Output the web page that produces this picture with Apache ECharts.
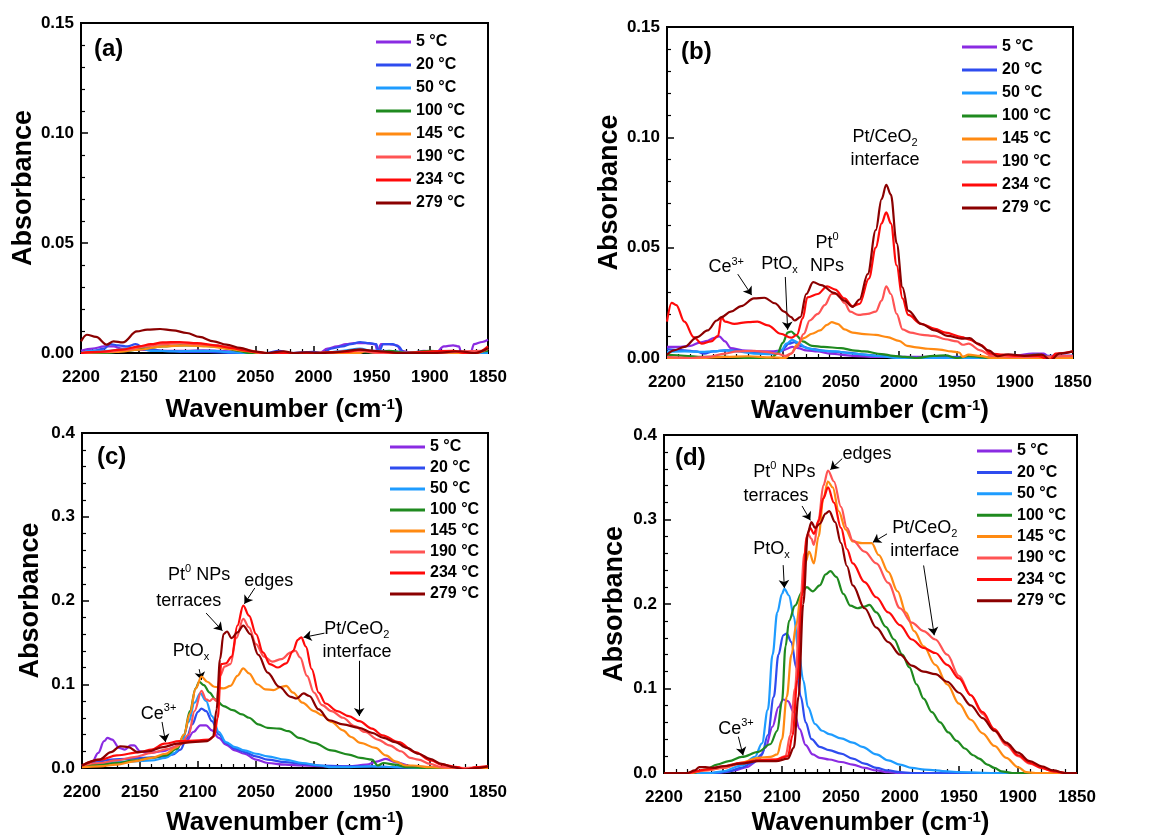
<!DOCTYPE html>
<html><head><meta charset="utf-8">
<script src="https://cdn.jsdelivr.net/npm/echarts@6/dist/echarts.min.js"></script>
<style>html,body{margin:0;padding:0;background:#fff}#c{width:1151px;height:837px}</style>
</head><body><div id="c"></div>
<script>
const FONT = "'Liberation Sans', Arial, sans-serif";
const seriesNames = ['5 °C','20 °C','50 °C','100 °C','145 °C','190 °C','234 °C','279 °C'];
const seriesColors = ['#8a2be2','#2e4cef','#1e9cff','#1f8a1f','#ff8a12','#ff5454','#ff0a0a','#8b0000'];
const panelLabels = ['(a)','(b)','(c)','(d)'];
const xMin = 1850, xMax = 2200, xInterval = 50;
const yMaxes = [0.15, 0.15, 0.4, 0.4];
const yIntervals = [0.05, 0.05, 0.1, 0.1];
const yDecimals = [2, 2, 1, 1];

// ---------- panel (a) ----------
const a5 = [[2200,0.001],[2190,0.002],[2180,0.003],[2172,0.003],[2165,0.002],[2150,0.0015],[2130,0.001],[2110,0.001],[2095,0.0012],[2080,0.001],[2065,0.0005],[2050,0],[2010,0],[1995,0],[1988,0.002],[1980,0.003],[1972,0.004],[1965,0.0045],[1955,0.0045],[1947,0.004],[1945,0.0005],[1942,0.004],[1935,0.004],[1928,0.0035],[1925,0.001],[1915,0],[1905,0.001],[1895,0],[1888,0.003],[1880,0.0035],[1875,0.003],[1873,0],[1865,0],[1862,0.004],[1855,0.005],[1850,0.006]];
const a20 = [[2200,0],[2190,0.001],[2180,0.002],[2175,0.004],[2168,0.0035],[2160,0.003],[2153,0.004],[2145,0.002],[2130,0.001],[2110,0.0005],[2090,0.0005],[2070,0],[2040,0],[2030,0.001],[2020,0],[2000,0.0005],[1992,0],[1985,0.002],[1975,0.003],[1968,0.004],[1960,0.005],[1952,0.0045],[1946,0.004],[1944,0.0005],[1940,0.004],[1932,0.004],[1927,0.003],[1922,0],[1910,0.0005],[1900,0],[1880,0.0005],[1860,0],[1850,0.001]];
const a50 = [[2200,0],[2190,0.001],[2175,0.001],[2160,0.002],[2150,0.0025],[2140,0.001],[2120,0.0008],[2100,0.001],[2085,0.001],[2075,0.0005],[2060,0],[1990,0],[1975,0.001],[1960,0.002],[1950,0.001],[1940,0.001],[1910,0],[1850,0]];
const a100 = [[2200,0],[2180,0],[2160,0.001],[2145,0.002],[2130,0.003],[2115,0.0035],[2100,0.0035],[2085,0.003],[2075,0.002],[2065,0.001],[2055,0],[2000,0],[1960,0.0005],[1945,0],[1935,0.001],[1920,0],[1900,0.001],[1880,0],[1850,0.001]];
const a145 = [[2200,0],[2170,0.0005],[2150,0.0015],[2130,0.003],[2110,0.0035],[2090,0.003],[2075,0.002],[2060,0.001],[2045,0],[1960,0],[1955,0.001],[1940,0],[1860,0],[1850,0.002]];
const a190 = [[2200,0],[2180,0.0005],[2160,0.0015],[2145,0.003],[2130,0.004],[2115,0.0045],[2100,0.004],[2085,0.0035],[2070,0.0025],[2058,0.0015],[2045,0],[2000,0],[1960,0.001],[1945,0],[1900,0],[1855,0.001],[1850,0.002]];
const a234 = [[2200,0],[2185,0.0005],[2165,0.0015],[2150,0.003],[2140,0.004],[2130,0.0048],[2115,0.005],[2100,0.0045],[2085,0.0035],[2070,0.0022],[2060,0.0012],[2050,0.0005],[2040,0],[2000,0],[1970,0.0005],[1960,0.0015],[1950,0.001],[1940,0.0005],[1930,0],[1880,0.001],[1870,0],[1860,0],[1850,0.003]];
const a279 = [[2200,0.0053],[2195,0.0083],[2187,0.0073],[2178,0.0038],[2172,0.0053],[2164,0.0048],[2152,0.0098],[2143,0.0106],[2132,0.0109],[2121,0.0103],[2109,0.0091],[2098,0.0073],[2086,0.0053],[2075,0.0038],[2063,0.0023],[2052,0.0008],[2040,0],[2026,0.0008],[2017,0],[2006,0.0003],[1994,0],[1983,0.0003],[1960,0.0015],[1943,0.0008],[1925,0],[1897,0],[1874,0.0008],[1862,0],[1850,0.0022]];

// ---------- panel (b) ----------
const b5 = [[2200,0.005],[2190,0.005],[2180,0.0055],[2172,0.007],[2165,0.0078],[2160,0.009],[2155,0.0098],[2150,0.0075],[2145,0.0045],[2135,0.0035],[2120,0.003],[2110,0.003],[2100,0.0035],[2092,0.005],[2087,0.0045],[2080,0.0035],[2070,0.003],[2060,0.002],[2040,0.001],[2020,0.0005],[1960,0.0005],[1920,0],[1900,0.001],[1885,0.002],[1875,0.002],[1870,0],[1860,0.001],[1850,0.001]];
const b20 = [[2200,0.004],[2185,0.0035],[2175,0.003],[2168,0.002],[2160,0.003],[2150,0.0035],[2140,0.0035],[2130,0.0028],[2115,0.002],[2105,0.002],[2100,0.004],[2095,0.0065],[2090,0.0072],[2085,0.0055],[2075,0.004],[2060,0.003],[2045,0.0025],[2030,0.0015],[2015,0.001],[2000,0.0005],[1980,0],[1950,0.0005],[1900,0],[1880,0.001],[1850,0.001]];
const b50 = [[2200,0.0028],[2185,0.003],[2170,0.0028],[2160,0.003],[2150,0.0035],[2140,0.003],[2125,0.002],[2110,0.0018],[2102,0.003],[2097,0.0065],[2092,0.0082],[2087,0.007],[2080,0.0045],[2070,0.0035],[2055,0.003],[2040,0.002],[2020,0.001],[2000,0],[1900,0],[1850,0.001]];
const b100 = [[2200,0.0015],[2185,0.001],[2170,0.0005],[2150,0.0005],[2130,0],[2110,0],[2105,0.002],[2100,0.007],[2096,0.0115],[2093,0.012],[2089,0.0105],[2083,0.0075],[2075,0.0055],[2065,0.005],[2050,0.0045],[2040,0.0035],[2030,0.003],[2015,0.0018],[2005,0.001],[1995,0.0005],[1985,0],[1970,0.001],[1960,0.0012],[1950,0],[1940,0.0008],[1920,0],[1900,0.0005],[1880,0.0015],[1870,0],[1850,0]];
const b145 = [[2200,0],[2170,0],[2150,0.0005],[2130,0.0008],[2110,0.0003],[2098,0],[2093,0.002],[2088,0.006],[2082,0.009],[2075,0.011],[2068,0.0125],[2062,0.015],[2058,0.0163],[2053,0.0155],[2047,0.013],[2040,0.0115],[2030,0.0108],[2020,0.0105],[2010,0.0095],[2000,0.0078],[1993,0.0055],[1985,0.0048],[1975,0.0042],[1965,0.0038],[1955,0.003],[1948,0.0025],[1945,0.0005],[1940,0.0015],[1930,0.001],[1920,0],[1850,0]];
const b190 = [[2200,0.0005],[2180,0],[2165,0.0005],[2150,0.002],[2140,0.003],[2125,0.0032],[2115,0.0028],[2105,0.002],[2098,0.001],[2093,0.002],[2088,0.005],[2082,0.011],[2077,0.017],[2070,0.02],[2064,0.024],[2058,0.029],[2053,0.029],[2047,0.025],[2042,0.021],[2035,0.0195],[2027,0.02],[2020,0.021],[2015,0.026],[2011,0.0325],[2007,0.029],[2002,0.02],[1997,0.013],[1990,0.0115],[1980,0.0105],[1970,0.01],[1960,0.0085],[1950,0.0075],[1945,0.006],[1940,0.0065],[1930,0.0035],[1920,0.001],[1900,0.0005],[1850,0.001]];
const b234 = [[2200,0.0165],[2196,0.025],[2192,0.024],[2185,0.0165],[2177,0.0095],[2170,0.0065],[2162,0.0075],[2156,0.01],[2153,0.0185],[2150,0.0165],[2142,0.0155],[2130,0.0163],[2122,0.0165],[2113,0.0148],[2102,0.011],[2093,0.0092],[2088,0.0105],[2083,0.018],[2079,0.0275],[2070,0.029],[2062,0.0325],[2055,0.031],[2047,0.027],[2040,0.0235],[2034,0.0245],[2026,0.036],[2020,0.05],[2015,0.061],[2011,0.066],[2007,0.061],[2002,0.042],[1997,0.027],[1992,0.0195],[1981,0.0155],[1969,0.0132],[1960,0.0115],[1946,0.0095],[1939,0.0083],[1929,0.0057],[1921,0.002],[1910,0.0015],[1900,0.001],[1880,0.001],[1870,-0.001],[1865,0.002],[1850,0.003]];
const b279 = [[2200,0.0015],[2194,0.0035],[2185,0.005],[2174,0.0095],[2165,0.0125],[2157,0.017],[2153,0.0185],[2145,0.021],[2136,0.0235],[2125,0.027],[2116,0.0273],[2107,0.0248],[2099,0.021],[2093,0.0185],[2090,0.017],[2085,0.0185],[2080,0.029],[2074,0.0344],[2067,0.033],[2056,0.0295],[2047,0.026],[2040,0.0232],[2034,0.0265],[2027,0.038],[2020,0.058],[2015,0.072],[2011,0.0785],[2007,0.074],[2002,0.052],[1997,0.032],[1992,0.0215],[1981,0.0155],[1969,0.0125],[1958,0.01],[1946,0.0088],[1939,0.009],[1932,0.0065],[1923,0.0035],[1915,0.0008],[1906,0.0017],[1892,0.001],[1877,0.0015],[1869,-0.001],[1862,0.002],[1850,0.003]];

// ---------- panel (c) ----------
const c5 = [[2200,0.002],[2192,0.005],[2186,0.018],[2181,0.032],[2178,0.036],[2174,0.034],[2168,0.024],[2163,0.022],[2158,0.027],[2155,0.027],[2150,0.02],[2143,0.018],[2130,0.02],[2120,0.025],[2110,0.032],[2104,0.043],[2098,0.051],[2093,0.051],[2088,0.045],[2082,0.036],[2076,0.028],[2068,0.021],[2060,0.017],[2050,0.01],[2040,0.006],[2025,0.004],[2010,0.003],[1990,0.002],[1970,0.002],[1955,0.004],[1945,0.008],[1938,0.011],[1930,0.007],[1915,0.002],[1900,0.001],[1870,0],[1850,0]];
const c20 = [[2200,0.003],[2185,0.008],[2175,0.01],[2160,0.011],[2150,0.012],[2135,0.013],[2122,0.016],[2115,0.022],[2110,0.035],[2105,0.052],[2100,0.067],[2097,0.071],[2093,0.068],[2088,0.056],[2082,0.04],[2076,0.03],[2068,0.023],[2060,0.019],[2050,0.014],[2040,0.01],[2025,0.007],[2010,0.005],[1995,0.003],[1975,0.002],[1950,0.002],[1930,0.001],[1900,0],[1850,0]];
const c50 = [[2200,0.002],[2185,0.005],[2170,0.007],[2155,0.008],[2140,0.009],[2128,0.012],[2120,0.018],[2114,0.03],[2108,0.055],[2103,0.078],[2098,0.089],[2093,0.08],[2088,0.062],[2082,0.043],[2076,0.031],[2068,0.025],[2060,0.021],[2050,0.017],[2040,0.014],[2025,0.01],[2010,0.006],[1995,0.003],[1985,0.001],[1970,0.001],[1950,0.002],[1930,0.001],[1900,0],[1850,0]];
const c100 = [[2200,0.002],[2185,0.004],[2170,0.006],[2155,0.009],[2140,0.012],[2128,0.015],[2118,0.023],[2112,0.04],[2107,0.068],[2102,0.095],[2099,0.103],[2095,0.099],[2090,0.09],[2085,0.082],[2078,0.074],[2070,0.069],[2062,0.064],[2056,0.06],[2048,0.052],[2040,0.048],[2030,0.047],[2022,0.044],[2013,0.036],[2000,0.03],[1985,0.021],[1970,0.016],[1960,0.012],[1950,0.01],[1945,0.003],[1940,0.006],[1930,0.004],[1920,0.001],[1900,0],[1850,0]];
const c145 = [[2200,0.001],[2185,0.002],[2170,0.004],[2155,0.008],[2140,0.012],[2128,0.017],[2118,0.025],[2112,0.04],[2107,0.065],[2102,0.095],[2097,0.109],[2092,0.103],[2086,0.097],[2078,0.095],[2072,0.098],[2066,0.11],[2061,0.119],[2056,0.113],[2049,0.1],[2042,0.094],[2035,0.093],[2028,0.097],[2024,0.098],[2018,0.09],[2010,0.078],[2000,0.068],[1993,0.063],[1985,0.055],[1975,0.045],[1968,0.037],[1960,0.03],[1947,0.024],[1938,0.015],[1930,0.008],[1921,0.003],[1915,0.003],[1900,0.001],[1880,0],[1850,0]];
const c190 = [[2200,0.003],[2185,0.006],[2170,0.009],[2155,0.013],[2140,0.018],[2125,0.023],[2115,0.028],[2108,0.04],[2103,0.068],[2097,0.092],[2093,0.082],[2090,0.08],[2087,0.083],[2084,0.08],[2081,0.11],[2077,0.121],[2072,0.124],[2067,0.155],[2061,0.178],[2056,0.168],[2050,0.148],[2043,0.133],[2036,0.127],[2028,0.13],[2020,0.138],[2016,0.14],[2012,0.132],[2006,0.11],[2000,0.09],[1993,0.075],[1985,0.068],[1975,0.06],[1965,0.05],[1956,0.043],[1945,0.034],[1935,0.027],[1925,0.02],[1917,0.012],[1910,0.01],[1900,0.005],[1890,0.001],[1870,0],[1850,0.002]];
const c234 = [[2200,0.003],[2184,0.01],[2170,0.015],[2150,0.019],[2140,0.022],[2129,0.029],[2116,0.032],[2099,0.033],[2090,0.034],[2086,0.038],[2083,0.06],[2080,0.124],[2076,0.125],[2071,0.133],[2066,0.17],[2061,0.194],[2056,0.182],[2050,0.16],[2044,0.138],[2038,0.124],[2031,0.12],[2024,0.125],[2018,0.14],[2014,0.153],[2011,0.156],[2007,0.145],[2002,0.118],[1996,0.09],[1990,0.077],[1980,0.068],[1970,0.062],[1961,0.056],[1950,0.047],[1941,0.039],[1927,0.031],[1913,0.019],[1899,0.009],[1890,0.004],[1876,0.001],[1870,-0.002],[1860,0.001],[1850,0.002]];
const c279 = [[2200,0.003],[2185,0.01],[2175,0.019],[2167,0.026],[2160,0.025],[2152,0.019],[2143,0.02],[2130,0.025],[2118,0.029],[2105,0.031],[2092,0.032],[2087,0.037],[2084,0.07],[2081,0.13],[2078,0.16],[2075,0.163],[2071,0.155],[2066,0.162],[2061,0.17],[2055,0.16],[2048,0.135],[2040,0.114],[2030,0.097],[2020,0.085],[2015,0.083],[2009,0.089],[2004,0.086],[1996,0.07],[1987,0.057],[1975,0.052],[1961,0.048],[1950,0.042],[1940,0.036],[1930,0.031],[1920,0.024],[1910,0.017],[1900,0.011],[1890,0.005],[1880,0.001],[1870,-0.002],[1860,0],[1850,0.002]];

// ---------- panel (d) ----------
const d5 = [[2200,0],[2160,0],[2150,0.001],[2140,0.003],[2130,0.007],[2120,0.015],[2114,0.03],[2108,0.055],[2103,0.078],[2099,0.087],[2095,0.085],[2090,0.072],[2085,0.052],[2080,0.033],[2074,0.022],[2068,0.018],[2060,0.016],[2050,0.013],[2040,0.01],[2030,0.006],[2020,0.003],[2010,0.001],[2000,0],[1850,0]];
const d20 = [[2200,0],[2155,0],[2145,0.002],[2135,0.006],[2125,0.012],[2117,0.022],[2112,0.045],[2107,0.09],[2103,0.14],[2099,0.163],[2096,0.165],[2092,0.155],[2088,0.125],[2084,0.09],[2080,0.06],[2075,0.04],[2068,0.031],[2060,0.027],[2050,0.023],[2040,0.017],[2030,0.011],[2020,0.006],[2010,0.003],[2000,0.001],[1990,0],[1850,0]];
const d50 = [[2200,0],[2160,0],[2150,0.002],[2134,0.009],[2123,0.019],[2117,0.035],[2112,0.075],[2108,0.14],[2104,0.19],[2100,0.212],[2098,0.218],[2094,0.21],[2090,0.185],[2086,0.145],[2082,0.11],[2078,0.078],[2072,0.058],[2066,0.05],[2060,0.046],[2050,0.041],[2040,0.036],[2032,0.031],[2020,0.022],[2010,0.015],[2000,0.01],[1990,0.006],[1979,0.004],[1960,0.002],[1950,0.001],[1920,0],[1850,0]];
const d100 = [[2200,0],[2175,0],[2165,0.004],[2155,0.01],[2145,0.014],[2134,0.019],[2120,0.025],[2110,0.034],[2104,0.05],[2100,0.085],[2097,0.15],[2094,0.18],[2089,0.198],[2083,0.214],[2079,0.22],[2074,0.215],[2068,0.222],[2063,0.235],[2059,0.239],[2054,0.232],[2048,0.212],[2042,0.198],[2036,0.195],[2030,0.197],[2026,0.199],[2020,0.19],[2012,0.173],[2005,0.158],[1998,0.14],[1992,0.125],[1986,0.105],[1980,0.088],[1973,0.072],[1966,0.06],[1959,0.048],[1952,0.038],[1945,0.029],[1938,0.021],[1933,0.017],[1926,0.01],[1920,0.006],[1914,0.002],[1905,0],[1850,0]];
const d145 = [[2200,0],[2178,0],[2165,0.003],[2150,0.006],[2135,0.012],[2120,0.018],[2110,0.019],[2104,0.022],[2100,0.04],[2096,0.09],[2092,0.14],[2088,0.175],[2084,0.21],[2080,0.25],[2077,0.262],[2073,0.248],[2069,0.28],[2065,0.325],[2061,0.345],[2057,0.338],[2052,0.31],[2046,0.288],[2040,0.274],[2032,0.272],[2024,0.272],[2018,0.258],[2010,0.238],[2002,0.215],[1995,0.19],[1988,0.168],[1980,0.15],[1970,0.128],[1960,0.105],[1950,0.082],[1940,0.063],[1930,0.047],[1920,0.032],[1910,0.018],[1900,0.007],[1893,0.001],[1885,0],[1850,0]];
const d190 = [[2200,0],[2180,0],[2165,0.003],[2150,0.006],[2135,0.011],[2120,0.015],[2105,0.016],[2097,0.02],[2093,0.045],[2089,0.1],[2085,0.19],[2081,0.26],[2078,0.283],[2075,0.277],[2073,0.27],[2069,0.3],[2065,0.34],[2061,0.358],[2056,0.345],[2050,0.315],[2045,0.29],[2040,0.275],[2030,0.262],[2020,0.248],[2010,0.225],[2000,0.195],[1990,0.178],[1980,0.168],[1970,0.158],[1960,0.14],[1950,0.115],[1940,0.092],[1930,0.07],[1920,0.05],[1910,0.033],[1900,0.02],[1890,0.011],[1880,0.006],[1870,0.002],[1860,0],[1850,0]];
const d234 = [[2200,0],[2180,0],[2165,0.004],[2150,0.008],[2135,0.012],[2120,0.015],[2105,0.016],[2095,0.02],[2091,0.045],[2087,0.11],[2083,0.21],[2079,0.28],[2076,0.29],[2073,0.283],[2069,0.298],[2065,0.325],[2061,0.338],[2056,0.32],[2050,0.29],[2045,0.265],[2040,0.248],[2030,0.226],[2020,0.208],[2010,0.19],[2000,0.175],[1990,0.158],[1980,0.148],[1970,0.142],[1960,0.128],[1950,0.112],[1940,0.092],[1930,0.072],[1920,0.052],[1910,0.035],[1900,0.021],[1890,0.012],[1880,0.006],[1870,0.002],[1860,0],[1850,0]];
const d279 = [[2200,0],[2180,0],[2174,0.003],[2170,0.007],[2165,0.007],[2158,0.006],[2150,0.008],[2135,0.011],[2120,0.014],[2105,0.014],[2095,0.017],[2090,0.03],[2086,0.09],[2082,0.2],[2078,0.285],[2075,0.297],[2072,0.29],[2068,0.295],[2063,0.307],[2060,0.31],[2055,0.297],[2050,0.272],[2045,0.245],[2040,0.222],[2030,0.195],[2020,0.172],[2010,0.155],[2000,0.14],[1990,0.127],[1980,0.12],[1970,0.117],[1960,0.108],[1950,0.095],[1940,0.08],[1930,0.065],[1920,0.05],[1910,0.036],[1900,0.024],[1890,0.014],[1880,0.008],[1870,0.003],[1860,0],[1850,0]];

const panelData = [
  [a5,a20,a50,a100,a145,a190,a234,a279],
  [b5,b20,b50,b100,b145,b190,b234,b279],
  [c5,c20,c50,c100,c145,c190,c234,c279],
  [d5,d20,d50,d100,d145,d190,d234,d279]
];

// ---------- annotations (data coordinates) ----------
const panelNotes = [
  [],
  [ {text:'Ce{sup|3+}', at:[2149,0.041]}, {text:'PtO{sub|x}', at:[2103,0.0425]}, {text:'Pt{sup|0}\nNPs', at:[2062,0.047]}, {text:'Pt/CeO{sub|2}\ninterface', at:[2012,0.095]} ],
  [ {text:'Ce{sup|3+}', at:[2134,0.064]}, {text:'PtO{sub|x}', at:[2106,0.14]}, {text:'Pt{sup|0} NPs', at:[2099,0.23]}, {text:'terraces', at:[2108,0.199]}, {text:'edges', at:[2039,0.223]}, {text:'Pt/CeO{sub|2}\ninterface', at:[1963,0.152]} ],
  [ {text:'Ce{sup|3+}', at:[2139,0.052]}, {text:'PtO{sub|x}', at:[2109,0.265]}, {text:'Pt{sup|0} NPs', at:[2098,0.356]}, {text:'terraces', at:[2105,0.328]}, {text:'edges', at:[2028,0.378]}, {text:'Pt/CeO{sub|2}\ninterface', at:[1979,0.276]} ]
];
const panelArrows = [
  [],
  [ [[2139,0.038],[2127,0.0285]], [[2098,0.0367],[2096,0.0128]] ],
  [ [[2131,0.055],[2128,0.031]], [[2099,0.118],[2097,0.105]], [[2093,0.185],[2079,0.164]], [[2051,0.215],[2060,0.196]], [[1991,0.161],[2009,0.156]], [[1961,0.128],[1961,0.062]] ],
  [ [[2137,0.043],[2133,0.021]], [[2099,0.246],[2098,0.219]], [[2083,0.316],[2076,0.299]], [[2049,0.372],[2059,0.359]], [[2011,0.283],[2023,0.273]], [[1980,0.2456],[1971,0.163]] ]
];

// ---------- layout ----------
const grids = [
  {left:81, top:23, width:407, height:330},
  {left:667, top:27, width:406, height:331},
  {left:82, top:433, width:406, height:338},
  {left:664, top:435, width:413, height:339}
];
const legendPos = [
  {left:376, top:34, itemGap:7},
  {left:962, top:39, itemGap:7},
  {left:390, top:439, itemGap:5},
  {left:977, top:443, itemGap:5.4}
];
const labelPos = [[94,37],[681,40],[97,445],[675,446]];
const xNameGap = [44, 40, 42, 37];
const yNameGap = [43, 43, 38, 36];

const rich = {
  sup: {fontSize: 11, fontFamily: FONT, color: '#000', verticalAlign: 'top', lineHeight: 12},
  sub: {fontSize: 11, fontFamily: FONT, color: '#000', verticalAlign: 'bottom', lineHeight: 12}
};

const chart = echarts.init(document.getElementById('c'), null, {renderer: 'canvas'});
const option = {
  backgroundColor: '#fff',
  animation: false,
  grid: grids.map(g => Object.assign({show: true, borderColor: '#000', borderWidth: 2, backgroundColor: 'transparent'}, g)),
  xAxis: grids.map((g, i) => ({
    gridIndex: i, type: 'value', min: xMin, max: xMax, interval: xInterval, inverse: true,
    name: 'Wavenumber (cm{sup|-1})', nameLocation: 'middle', nameGap: xNameGap[i],
    nameTextStyle: {fontSize: 26, fontWeight: 'bold', fontFamily: FONT, color: '#000',
      rich: {sup: {fontSize: 15, fontWeight: 'bold', fontFamily: FONT, color: '#000', verticalAlign: 'top', lineHeight: 14}}},
    axisLine: {show: true, onZero: false, lineStyle: {color: '#000', width: 2}},
    axisTick: {show: true, inside: true, length: 7, lineStyle: {color: '#000', width: 1.5}},
    minorTick: {show: true, splitNumber: 5, length: 4, lineStyle: {color: '#000', width: 1.2}},
    axisLabel: {fontSize: 17, fontWeight: 'bold', fontFamily: FONT, color: '#000', margin: 16,
      formatter: v => String(v)},
    splitLine: {show: false}
  })),
  yAxis: grids.map((g, i) => ({
    gridIndex: i, type: 'value', min: 0, max: yMaxes[i], interval: yIntervals[i],
    name: 'Absorbance', nameLocation: 'middle', nameGap: yNameGap[i],
    nameTextStyle: {fontSize: 27, fontWeight: 'bold', fontFamily: FONT, color: '#000'},
    axisLine: {show: true, onZero: false, lineStyle: {color: '#000', width: 2}},
    axisTick: {show: true, inside: true, length: 7, lineStyle: {color: '#000', width: 1.5}},
    minorTick: {show: true, splitNumber: 5, length: 4, lineStyle: {color: '#000', width: 1.2}},
    axisLabel: {fontSize: 17, fontWeight: 'bold', fontFamily: FONT, color: '#000', margin: 7,
      formatter: v => v.toFixed(yDecimals[i])},
    splitLine: {show: false}
  })),
  legend: legendPos.map(p => ({
    orient: 'vertical', left: p.left, top: p.top, itemGap: p.itemGap, padding: 0,
    icon: 'rect', itemWidth: 35, itemHeight: 3, selectedMode: false,
    data: seriesNames,
    textStyle: {fontSize: 16, fontWeight: 'bold', fontFamily: FONT, color: '#000', lineHeight: 16}
  })),
  graphic: labelPos.map((p, i) => ({
    type: 'text', left: p[0], top: p[1], silent: true,
    style: {text: panelLabels[i], fontSize: 24, fontWeight: 'bold', fontFamily: FONT, fill: '#000'}
  })),
  series: []
};

panelData.forEach((list, gi) => {
  list.forEach((data, si) => {
    option.series.push({
      type: 'line', name: seriesNames[si], xAxisIndex: gi, yAxisIndex: gi,
      data: data, showSymbol: false, smooth: 0.35, smoothMonotone: 'x',
      color: seriesColors[si],
      lineStyle: {width: 2.2, color: seriesColors[si]},
      emphasis: {disabled: true}, silent: true, z: 2 + si
    });
  });
  if (panelNotes[gi].length) {
    option.series.push({
      type: 'line', name: 'notes' + gi, xAxisIndex: gi, yAxisIndex: gi, data: [], silent: true, z: 20,
      markPoint: {
        symbol: 'circle', symbolSize: 1, silent: true, animation: false,
        itemStyle: {color: 'rgba(0,0,0,0)'},
        label: {show: true, position: 'inside', color: '#000', fontSize: 18, fontFamily: FONT, lineHeight: 23, rich: rich},
        data: panelNotes[gi].map(n => ({coord: n.at, label: {formatter: n.text}}))
      },
      markLine: {
        symbol: ['none', 'arrow'], symbolSize: 8, silent: true, animation: false,
        lineStyle: {color: '#000', width: 1, type: 'solid'},
        label: {show: false},
        data: panelArrows[gi].map(a => [{coord: a[0]}, {coord: a[1]}])
      }
    });
  }
});

chart.setOption(option);
</script>
</body></html>
